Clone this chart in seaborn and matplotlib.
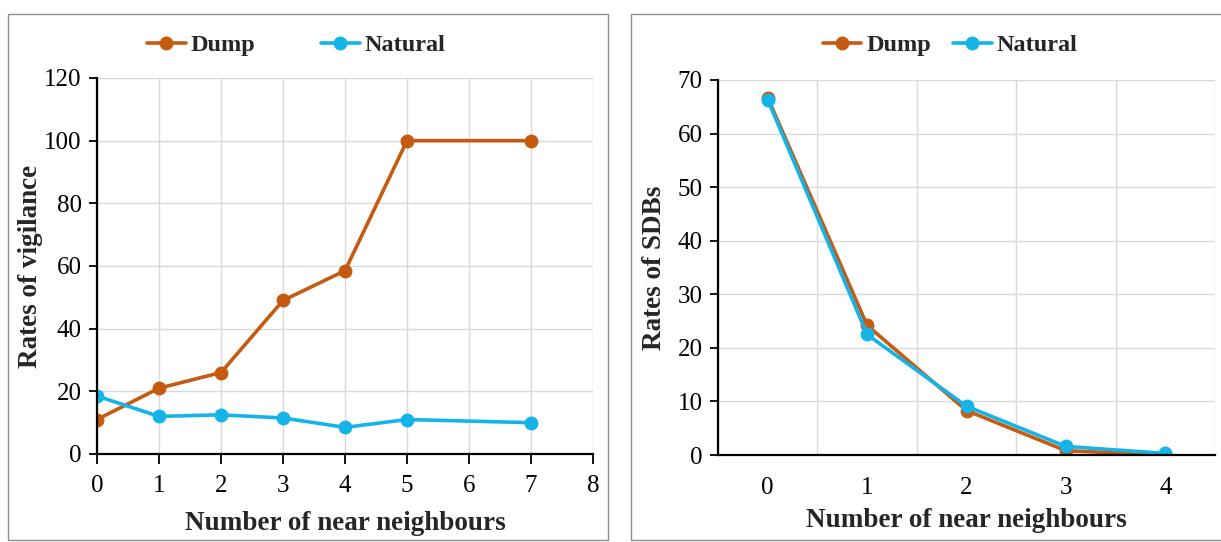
import pandas as pd
import matplotlib.pyplot as plt
import seaborn as sns
from matplotlib.patches import Rectangle

# === DATA ===
vig_neighbours = [0, 1, 2, 3, 4, 5, 7]
vig_dump = [11, 21, 26, 49, 58.5, 100, 100]
vig_natural = [18.5, 12, 12.5, 11.5, 8.5, 11, 10]

sdb_neighbours = [0, 1, 2, 3, 4]
sdb_dump = [66.7, 24.2, 8.3, 0.8, 0.0]
sdb_natural = [66.3, 22.5, 9.1, 1.6, 0.3]

SERIES = ["Dump", "Natural"]
COLORS = {"Dump": "#C55A11", "Natural": "#14B4E8"}

vig_df = pd.DataFrame({
    "n": vig_neighbours * 2,
    "rate": vig_dump + vig_natural,
    "site": ["Dump"] * len(vig_dump) + ["Natural"] * len(vig_natural),
})
sdb_df = pd.DataFrame({
    "n": sdb_neighbours * 2,
    "rate": sdb_dump + sdb_natural,
    "site": ["Dump"] * len(sdb_dump) + ["Natural"] * len(sdb_natural),
})

sns.set_style("white")
plt.rcParams["font.family"] = ["Liberation Serif", "DejaVu Serif"]

W, H = 1221, 542
fig = plt.figure(figsize=(W / 100, H / 100), dpi=100)

# panel frames
fig.patches.append(Rectangle((8 / W, 2 / H), 600 / W, 526 / H,
                             transform=fig.transFigure, fill=False,
                             edgecolor="#8c8c8c", linewidth=1.0))
fig.patches.append(Rectangle((631 / W, 2 / H), 600 / W, 526 / H,
                             transform=fig.transFigure, fill=False,
                             edgecolor="#8c8c8c", linewidth=1.0))

ax1 = fig.add_axes([97 / W, 1 - 454 / H, 496 / W, 376 / H])
ax2 = fig.add_axes([718 / W, 1 - 455 / H, 497 / W, 375 / H])

line_kw = dict(x="n", y="rate", hue="site", hue_order=SERIES, palette=COLORS,
               marker="o", markersize=10, markeredgewidth=0, linewidth=2.6,
               legend=False)

sns.lineplot(data=vig_df, ax=ax1, **line_kw)
sns.lineplot(data=sdb_df, ax=ax2, **line_kw)

grid_col = "#d9d9d9"

# === LEFT PANEL ===
ax1.set_xlim(0, 8)
ax1.set_ylim(0, 120)
ax1.set_xticks(range(0, 9))
ax1.set_yticks(range(0, 121, 20))
ax1.grid(True, color=grid_col, linewidth=1.0)
ax1.set_axisbelow(True)

# === RIGHT PANEL ===
ax2.set_xlim(-0.5, 4.5)
ax2.set_ylim(0, 70)
ax2.set_yticks(range(0, 71, 10))
ax2.set_xticks(sdb_neighbours)
ax2.set_xticks([i - 0.5 for i in range(0, 6)], minor=True)
ax2.tick_params(axis="x", which="major", length=0, pad=16)
ax2.tick_params(axis="x", which="minor", length=7, width=1.3, direction="out", color="black")
ax2.grid(True, axis="y", color=grid_col, linewidth=1.0)
ax2.grid(True, axis="x", which="minor", color=grid_col, linewidth=1.0)
ax2.set_axisbelow(True)

for ax in (ax1, ax2):
    for side in ("top", "right"):
        ax.spines[side].set_visible(False)
    for side in ("left", "bottom"):
        ax.spines[side].set_color("black")
        ax.spines[side].set_linewidth(1.6)
    ax.tick_params(axis="both", labelsize=18, colors="black")
    ax.tick_params(axis="y", direction="out", length=6, width=1.3, left=True, pad=5)
    ax.set_facecolor("white")

ax1.tick_params(axis="x", direction="out", length=7, width=1.3, bottom=True, pad=8)
ax1.set_xlabel("Number of near neighbours", fontsize=19.5, fontweight="bold", labelpad=10)
ax2.set_xlabel("Number of near neighbours", fontsize=19.5, fontweight="bold", labelpad=6)
ax1.set_ylabel("Rates of vigilance", fontsize=19.5, fontweight="bold", labelpad=1)
ax2.set_ylabel("Rates of SDBs", fontsize=19.5, fontweight="bold", labelpad=8)

# legends (placed in figure coordinates, above each panel)
handles = [plt.Line2D([], [], color=COLORS[s], marker="o", markersize=10,
                      markeredgewidth=0, linewidth=2.6) for s in SERIES]
leg_kw = dict(ncol=2, frameon=False, loc="center",
              bbox_transform=fig.transFigure,
              prop={"weight": "bold", "size": 17.5}, handlelength=1.6,
              handletextpad=0.2)
ax1.legend(handles, SERIES, bbox_to_anchor=(296 / W, 1 - 45 / H),
           columnspacing=2.7, **leg_kw)
ax2.legend(handles, SERIES, bbox_to_anchor=(950 / W, 1 - 45 / H),
           columnspacing=0.9, **leg_kw)

fig.savefig("out.png", dpi=100)
